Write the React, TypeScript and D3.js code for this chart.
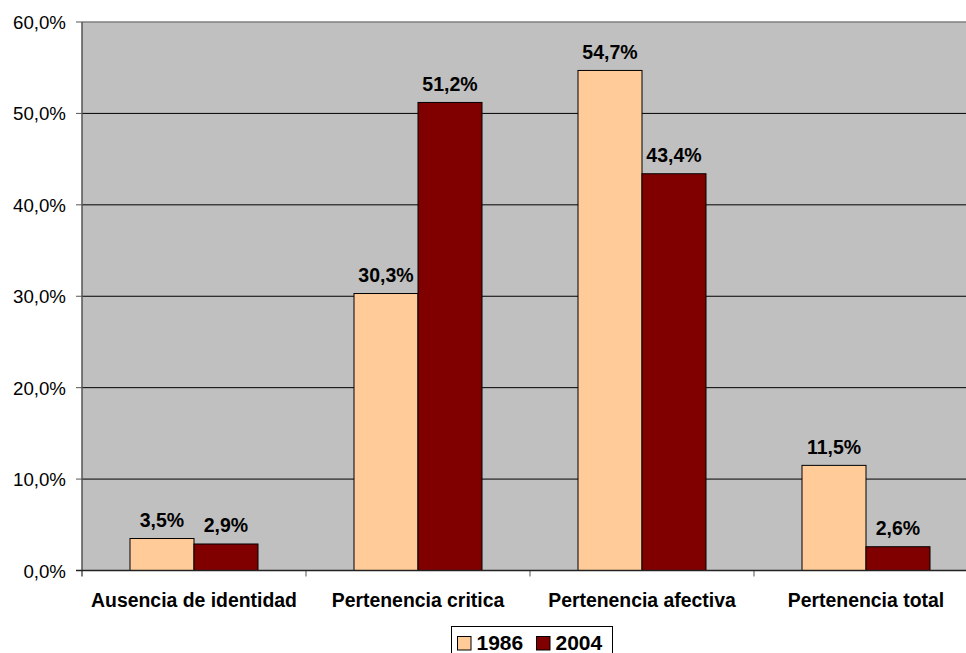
import React from "react";
import * as d3 from "d3";

const categories = ["Ausencia de identidad", "Pertenencia critica", "Pertenencia afectiva", "Pertenencia total"];
const seriesNames = ["1986", "2004"];
const values1986 = [3.5, 30.3, 54.7, 11.5];
const values2004 = [2.9, 51.2, 43.4, 2.6];
const seriesColors = ["#FFCC99", "#800000"];
const yTicks = [0, 10, 20, 30, 40, 50, 60];

const W = 966;
const H = 653;
const left = 82;
const right = 978;
const top = 22;
const bottom = 570.5;
const FONT = "'Liberation Sans', Arial, sans-serif";

const fmt = (v: number) => v.toFixed(1).replace(".", ",") + "%";

export default function App() {
  const y = d3.scaleLinear().domain([0, 60]).range([bottom, top]);
  const pi = 96 / 224;
  const x = d3.scaleBand<string>().domain(categories).range([left, right]).paddingInner(pi).paddingOuter(pi / 2);
  const xs = d3.scaleBand<string>().domain(seriesNames).range([0, x.bandwidth()]);
  const step = x.step();
  const series = [values1986, values2004];

  return (
    <svg width={W} height={H} style={{ position: "absolute", left: 0, top: 0, background: "#fff" }} fontFamily={FONT}>
      <defs>
        <clipPath id="clip">
          <rect x={0} y={0} width={W} height={H} />
        </clipPath>
      </defs>
      <rect x={left} y={top} width={right - left} height={bottom - top} fill="#C0C0C0" />
      {yTicks.map((t) => (
        <g key={t}>
          {t > 0 && (
            <line x1={left} x2={right} y1={y(t)} y2={y(t)} stroke={t === 60 ? "#808080" : "#000"} strokeWidth={t === 60 ? 1.5 : 1} />
          )}
          <line x1={left - 6} x2={left} y1={y(t)} y2={y(t)} stroke="#555" strokeWidth={1} />
          <text x={66} y={y(t) + 7} textAnchor="end" fontSize={18.7} fill="#000">
            {fmt(t)}
          </text>
        </g>
      ))}
      {categories.map((c, i) => (
        <g key={c}>
          {series.map((vals, s) => {
            const bx = (x(c) as number) + (xs(seriesNames[s]) as number);
            const bw = xs.bandwidth();
            const by = y(vals[i]);
            return (
              <g key={s}>
                <rect x={bx} y={by} width={bw} height={bottom - by} fill={seriesColors[s]} stroke="#000" strokeWidth={1} />
                <text x={bx + bw / 2} y={by - 11.5} textAnchor="middle" fontSize={19.5} fontWeight="bold" fill="#000">
                  {fmt(vals[i])}
                </text>
              </g>
            );
          })}
          <text x={(x(c) as number) + x.bandwidth() / 2} y={607} textAnchor="middle" fontSize={19.4} fontWeight="bold" fill="#000">
            {c}
          </text>
        </g>
      ))}
      {categories.map((c, i) => (
        <line key={"t" + i} x1={left + step * (i + 1)} x2={left + step * (i + 1)} y1={bottom} y2={bottom + 6} stroke="#555" />
      ))}
      <line x1={left} x2={left} y1={top} y2={bottom + 6} stroke="#555" strokeWidth={1.5} />
      <line x1={left - 6} x2={right} y1={bottom} y2={bottom} stroke="#222" strokeWidth={1.5} />
      <g>
        <rect x={451.5} y={626.5} width={161} height={40} fill="#fff" stroke="#000" strokeWidth={1} />
        {seriesNames.map((n, s) => {
          const lx = 457.5 + s * 79;
          return (
            <g key={n}>
              <rect x={lx} y={636.5} width={13.5} height={13.5} fill={seriesColors[s]} stroke="#000" strokeWidth={1} />
              <text x={lx + 19} y={650} fontSize={21} fontWeight="bold" fill="#000">
                {n}
              </text>
            </g>
          );
        })}
      </g>
    </svg>
  );
}
